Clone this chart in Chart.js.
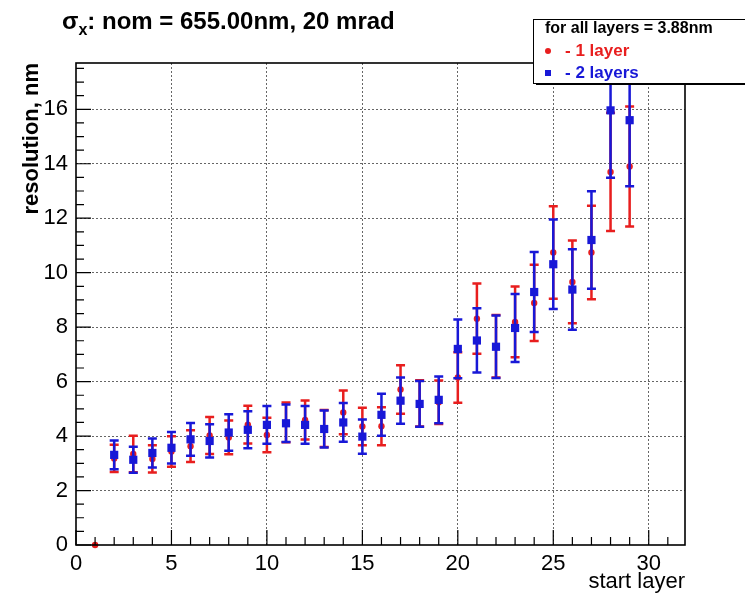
<!DOCTYPE html>
<html>
<head>
<meta charset="utf-8">
<script src="https://cdn.jsdelivr.net/npm/chart.js@4.4.1/dist/chart.umd.min.js"></script>
<style>
  body { margin: 0; background: #fff; }
  canvas { display: block; }
</style>
</head>
<body>
<canvas id="chart" width="745" height="594"></canvas>
<script>
// start layer index
var layers = [1, 2, 3, 4, 5, 6, 7, 8, 9, 10, 11, 12, 13, 14, 15,
              16, 17, 18, 19, 20, 21, 22, 23, 24, 25, 26, 27, 28, 29];

// resolution (nm) and its error, one layer per fit
var oneLayer    = [0, 3.18, 3.34, 3.16, 3.43, 3.63, 4.02, 3.95, 4.42, 4.04, 4.50, 4.59, 4.28, 4.87, 4.35,
                   4.36, 5.71, 5.20, 5.24, 6.15, 8.31, 7.30, 8.19, 8.89, 10.74, 9.66, 10.74, 13.70, 13.90];
var oneLayerErr = [0, 0.50, 0.67, 0.50, 0.56, 0.58, 0.68, 0.62, 0.69, 0.63, 0.73, 0.72, 0.68, 0.80, 0.69,
                   0.70, 0.89, 0.85, 0.80, 0.93, 1.29, 1.15, 1.30, 1.40, 1.70, 1.52, 1.72, 2.17, 2.20];

// resolution (nm) and its error, two layers per fit
var twoLayers    = [null, 3.31, 3.13, 3.38, 3.57, 3.88, 3.82, 4.13, 4.23, 4.41, 4.47, 4.41, 4.26, 4.50, 3.98,
                    4.78, 5.30, 5.18, 5.33, 7.20, 7.51, 7.28, 7.97, 9.29, 10.31, 9.38, 11.20, 15.96, 15.60];
var twoLayersErr = [null, 0.53, 0.48, 0.53, 0.58, 0.60, 0.61, 0.67, 0.68, 0.69, 0.69, 0.69, 0.68, 0.71, 0.63,
                    0.77, 0.85, 0.84, 0.86, 1.08, 1.18, 1.15, 1.25, 1.47, 1.64, 1.48, 1.79, 2.47, 2.43];

var xTicks = [0, 5, 10, 15, 20, 25, 30];
var yTicks = [0, 2, 4, 6, 8, 10, 12, 14, 16];
var xMinorStep = 1;
var yMinorStep = 0.5;
var xRange = [0, 31.9];
var yRange = [0, 17.7];

var headerText = 'for all layers = 3.88nm';
var RED = 'rgb(232, 30, 30)';
var BLUE = 'rgb(24, 24, 215)';
var FONT = "'Liberation Sans', Arial, Helvetica, sans-serif";

function points(ys) {
  return layers.map(function (x, i) { return { x: x, y: ys[i] }; });
}

// vertical error bars with end caps, drawn under each dataset's markers
var errorBars = {
  id: 'errorBars',
  beforeDatasetDraw: function (chart, args) {
    var ds = chart.data.datasets[args.index];
    var ctx = chart.ctx, area = chart.chartArea;
    var xs = chart.scales.x, ys = chart.scales.y;
    ctx.save();
    ctx.beginPath();
    ctx.rect(area.left, area.top, area.right - area.left, area.bottom - area.top);
    ctx.clip();
    ctx.strokeStyle = ds.borderColor;
    ctx.lineWidth = 2.5;
    ds.data.forEach(function (p, i) {
      var e = ds.errors[i];
      if (p.y === null || !e) return;
      var px = xs.getPixelForValue(p.x);
      var top = ys.getPixelForValue(p.y + e);
      var bot = ys.getPixelForValue(p.y - e);
      ctx.beginPath();
      ctx.moveTo(px, top); ctx.lineTo(px, bot);
      ctx.moveTo(px - 4.5, top); ctx.lineTo(px + 4.5, top);
      ctx.moveTo(px - 4.5, bot); ctx.lineTo(px + 4.5, bot);
      ctx.stroke();
    });
    ctx.restore();
  }
};

// frame box plus inward major/minor ticks on the x and y axes
var frameTicks = {
  id: 'frameTicks',
  afterDatasetsDraw: function (chart) {
    var ctx = chart.ctx, a = chart.chartArea;
    var xs = chart.scales.x, ys = chart.scales.y;
    ctx.save();
    ctx.strokeStyle = '#000';
    ctx.lineWidth = 1.2;
    ctx.beginPath();
    var v, p;
    for (v = xRange[0]; v <= xRange[1]; v += xMinorStep) {
      p = xs.getPixelForValue(v);
      var major = xTicks.indexOf(v) >= 0;
      ctx.moveTo(p, a.bottom);
      ctx.lineTo(p, a.bottom - (major ? 15 : 8));
    }
    for (v = yRange[0]; v <= yRange[1] + 1e-9; v += yMinorStep) {
      p = ys.getPixelForValue(v);
      var majorY = yTicks.indexOf(Math.round(v * 10) / 10) >= 0;
      ctx.moveTo(a.left, p);
      ctx.lineTo(a.left + (majorY ? 15 : 8), p);
    }
    ctx.stroke();
    ctx.lineWidth = 1.6;
    ctx.strokeRect(a.left, a.top, a.right - a.left, a.bottom - a.top);
    ctx.restore();
  }
};

// plot title with subscript and the boxed legend
var header = {
  id: 'header',
  afterDraw: function (chart) {
    var ctx = chart.ctx;
    ctx.save();
    ctx.fillStyle = '#000';
    ctx.textBaseline = 'alphabetic';
    ctx.textAlign = 'left';
    var x = 62, y = 29;
    ctx.font = 'bold 24px ' + FONT;
    ctx.fillText('\u03c3', x, y);
    x += ctx.measureText('\u03c3').width;
    ctx.font = 'bold 16px ' + FONT;
    ctx.fillText('x', x, y + 6);
    x += ctx.measureText('x').width;
    ctx.font = 'bold 24px ' + FONT;
    ctx.fillText(': nom = 655.00nm, 20 mrad', x, y);

    // legend box
    var bx = 533, by = 19, bw = 240, bh = 64;
    ctx.fillStyle = '#000';
    ctx.fillRect(bx + 3, by + bh, bw, 2);
    ctx.fillStyle = '#fff';
    ctx.fillRect(bx, by, bw, bh);
    ctx.strokeStyle = '#000';
    ctx.lineWidth = 1;
    ctx.strokeRect(bx + 0.5, by + 0.5, bw, bh);

    ctx.font = 'bold 16px ' + FONT;
    ctx.textBaseline = 'middle';
    ctx.fillStyle = '#000';
    ctx.fillText(headerText, 545, 29);

    var ds = chart.data.datasets;
    ctx.font = 'bold 17px ' + FONT;
    ctx.fillStyle = ds[0].borderColor;
    ctx.beginPath();
    ctx.arc(548, 51, 3, 0, Math.PI * 2);
    ctx.fill();
    ctx.fillText(ds[0].label, 565, 51);
    ctx.fillStyle = ds[1].borderColor;
    ctx.fillRect(545, 70, 6, 6);
    ctx.fillText(ds[1].label, 565, 73);
    ctx.restore();
  }
};

var ctx = document.getElementById('chart').getContext('2d');
var chart = new Chart(ctx, {
  type: 'scatter',
  data: {
    datasets: [{
      label: '- 1 layer',
      data: points(oneLayer),
      errors: oneLayerErr,
      order: 1,
      backgroundColor: RED,
      borderColor: RED,
      pointStyle: 'circle',
      pointRadius: 3.2,
      pointBorderWidth: 0,
      clip: false
    }, {
      label: '- 2 layers',
      data: points(twoLayers),
      errors: twoLayersErr,
      order: 0,
      backgroundColor: BLUE,
      borderColor: BLUE,
      pointStyle: 'rect',
      pointRadius: 5.8,
      pointBorderWidth: 0,
      clip: false
    }]
  },
  options: {
    responsive: false,
    animation: false,
    layout: { padding: { top: 63, right: 60, left: 0, bottom: 0 } },
    plugins: {
      legend: { display: false },
      tooltip: { enabled: false }
    },
    scales: {
      x: {
        type: 'linear',
        min: xRange[0],
        max: xRange[1],
        afterBuildTicks: function (scale) {
          scale.ticks = xTicks.map(function (v) { return { value: v }; });
        },
        afterFit: function (scale) { scale.height = 49; },
        ticks: { color: '#000', padding: 6, maxRotation: 0, font: { family: FONT, size: 22 } },
        grid: {
          drawTicks: false,
          lineWidth: 1,
          color: function (c) { return c.tick && c.tick.value === 0 ? 'rgba(0,0,0,0)' : '#666'; }
        },
        border: { display: false, dash: [2, 2] },
        title: {
          display: true, text: 'start layer', align: 'end', color: '#000',
          padding: { top: 0, bottom: -1 },
          font: { family: FONT, size: 22 }
        }
      },
      y: {
        min: yRange[0],
        max: yRange[1],
        afterBuildTicks: function (scale) {
          scale.ticks = yTicks.map(function (v) { return { value: v }; });
        },
        afterFit: function (scale) { scale.width = 76; },
        ticks: { color: '#000', padding: 8, font: { family: FONT, size: 22 } },
        grid: {
          drawTicks: false,
          lineWidth: 1,
          color: function (c) { return c.tick && c.tick.value === 0 ? 'rgba(0,0,0,0)' : '#666'; }
        },
        border: { display: false, dash: [2, 2] },
        title: {
          display: true, text: 'resolution, nm', align: 'end', color: '#000',
          padding: { top: 19, bottom: 0 },
          font: { family: FONT, size: 22, weight: 'bold' }
        }
      }
    }
  },
  plugins: [errorBars, frameTicks, header]
});
</script>
</body>
</html>
